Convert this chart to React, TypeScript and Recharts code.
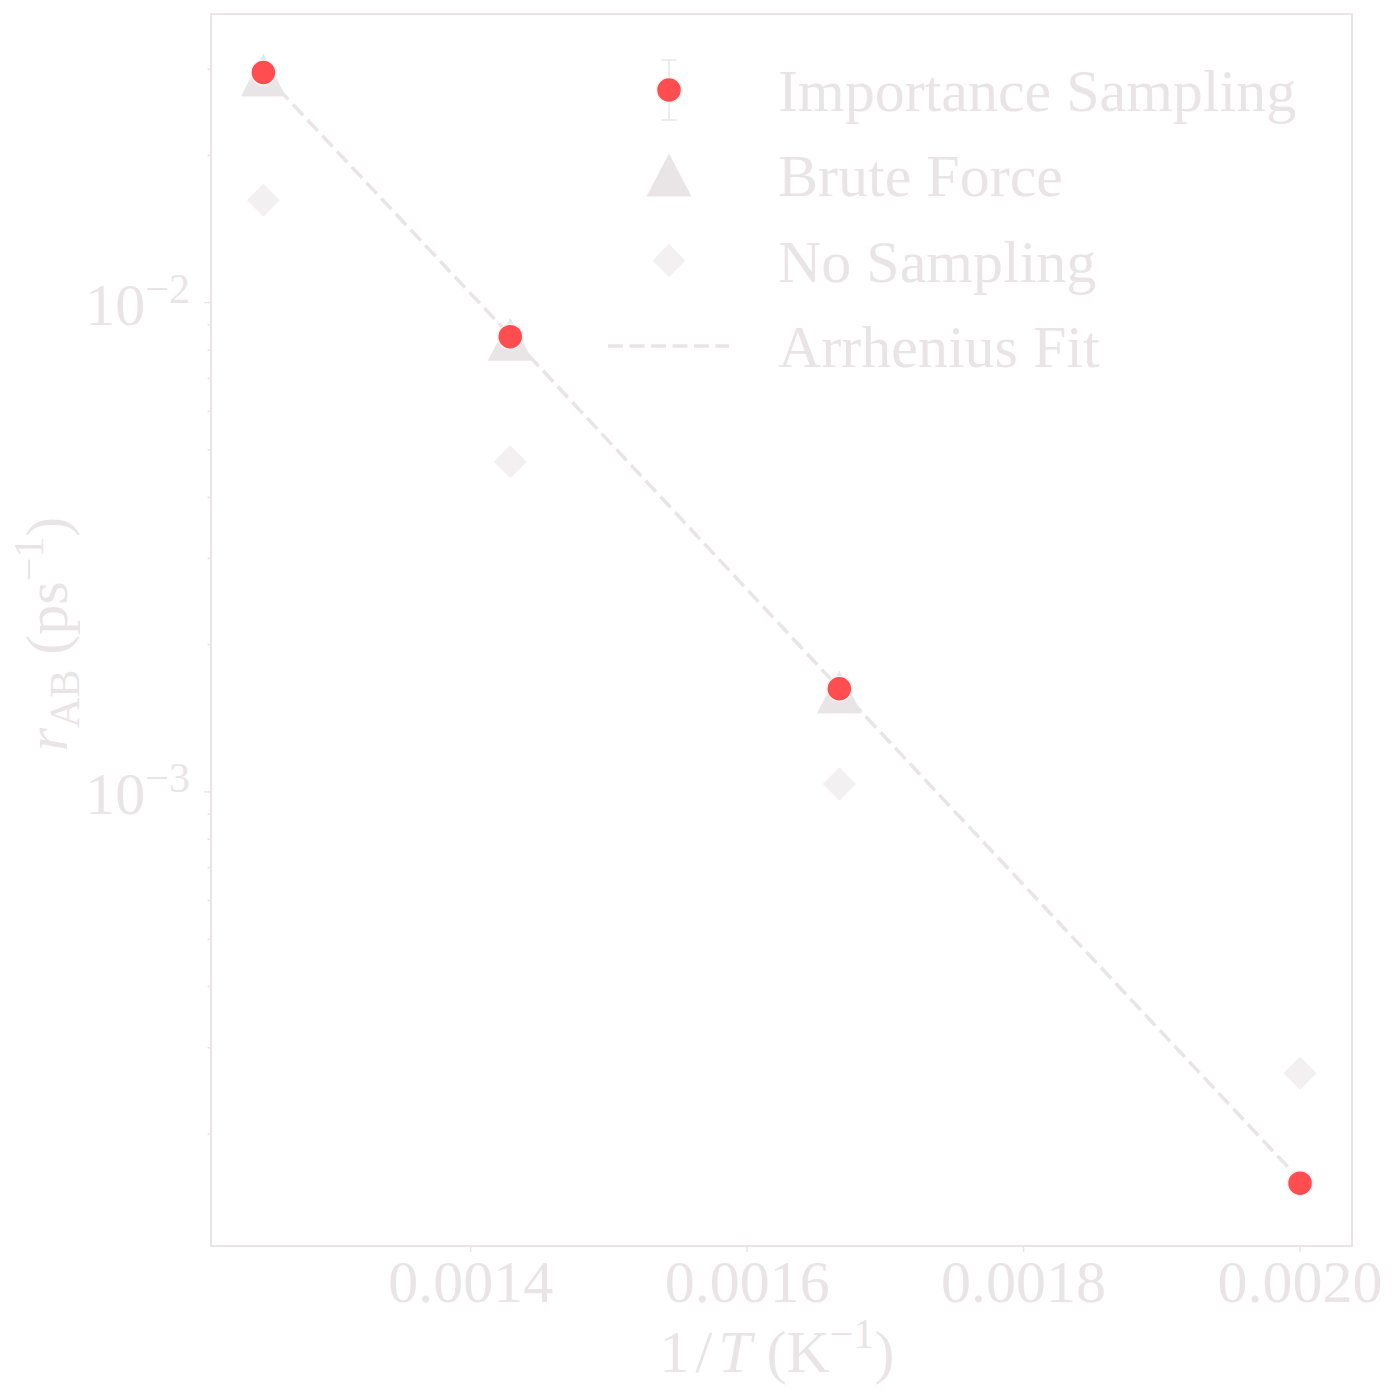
import React from 'react';
import { ScatterChart, Scatter, XAxis, YAxis, ReferenceArea, Legend } from 'recharts';

// 1/T for T = 800, 700, 600, 500 K
const invT = [0.00125, 0.0014286, 0.0016667, 0.002];
const importanceRates = [0.02953, 0.00852, 0.001625, 0.0001586];
const bruteForceRates = [0.0292, 0.00842, 0.0016];
const noSamplingRates = [0.0162, 0.00473, 0.001038, 0.000266];
const arrheniusFit = [0.02947, 0.00856, 0.001628, 0.000161];

const xTicks = [0.0014, 0.0016, 0.0018, 0.002];
const yTicks = [
  0.0002, 0.0003, 0.0004, 0.0005, 0.0006, 0.0007, 0.0008, 0.0009, 0.001,
  0.002, 0.003, 0.004, 0.005, 0.006, 0.007, 0.008, 0.009, 0.01, 0.02, 0.03,
];
const xDomain = [0.0012121, 0.0020376];
const yDomain = [0.000118, 0.0389];

const legendLabels = ['Importance Sampling', 'Brute Force', 'No Sampling', 'Arrhenius Fit'];

const toPoints = (ys: number[]) => ys.map((y, i) => ({ x: invT[i], y }));

const INK = '#E9E5E7';
const PALE = '#F2F0F1';
const RED = '#FF4D50';
const FONT = '"Liberation Serif", "Times New Roman", serif';

const Circle = ({ cx, cy }: any) => (
  <circle cx={cx} cy={cy} r={12.5} fill={RED} stroke="#F4F2F3" strokeWidth={1.5} />
);
const Triangle = ({ cx, cy }: any) => (
  <polygon points={`${cx},${cy - 21.5} ${cx - 22.5},${cy + 21.5} ${cx + 22.5},${cy + 21.5}`} fill={INK} />
);
const Diamond = ({ cx, cy }: any) => (
  <polygon points={`${cx},${cy - 16.5} ${cx + 16.5},${cy} ${cx},${cy + 16.5} ${cx - 16.5},${cy}`} fill={PALE} />
);
const Nothing = () => <g />;

const YTick = ({ x, y, payload }: any) => {
  const axisX = x + 7;
  const v = payload.value;
  const lg = Math.log10(v);
  const major = Math.abs(lg - Math.round(lg)) < 1e-6;
  return (
    <g>
      <line x1={axisX - (major ? 7 : 3.5)} x2={axisX} y1={y} y2={y} stroke={INK} strokeWidth={1.5} />
      {major && (
        <text x={axisX - 21} y={y + 22} textAnchor="end" fontSize={60} fill={INK} fontFamily={FONT}>
          10
          <tspan dy={-22} fontSize={42}>{'\u2212' + Math.abs(Math.round(lg))}</tspan>
        </text>
      )}
    </g>
  );
};

const XTick = ({ x, y, payload }: any) => {
  const axisY = y - 6;
  return (
    <g>
      <line x1={x} x2={x} y1={axisY} y2={axisY + 6} stroke={INK} strokeWidth={1.5} />
      <text x={x} y={axisY + 56} textAnchor="middle" fontSize={60} fill={INK} fontFamily={FONT}>
        {payload.value.toFixed(4)}
      </text>
    </g>
  );
};

const LegendBox = () => {
  const rows = [50, 135, 220.5, 306];
  const cx = 69;
  return (
    <svg width={780} height={360} style={{ display: 'block' }}>
      {/* error-bar circle */}
      <line x1={cx} x2={cx} y1={rows[0] - 30} y2={rows[0] + 30} stroke={INK} strokeWidth={1.5} />
      <line x1={cx - 7.5} x2={cx + 7.5} y1={rows[0] - 30} y2={rows[0] - 30} stroke={INK} strokeWidth={1.5} />
      <line x1={cx - 7.5} x2={cx + 7.5} y1={rows[0] + 30} y2={rows[0] + 30} stroke={INK} strokeWidth={1.5} />
      <Circle cx={cx} cy={rows[0]} />
      <Triangle cx={cx} cy={rows[1]} />
      <Diamond cx={cx} cy={rows[2]} />
      <line x1={8} x2={129} y1={rows[3]} y2={rows[3]} stroke={INK} strokeWidth={3.5} strokeDasharray="15 6.5" />
      {legendLabels.map((label, i) => (
        <text key={label} x={178} y={rows[i] + 21} fontSize={60} fill={INK} fontFamily={FONT}>
          {label}
        </text>
      ))}
    </svg>
  );
};

export default function App() {
  return (
    <div style={{ position: 'absolute', left: 0, top: 0, width: 1399, height: 1400, background: '#fff' }}>
      <ScatterChart width={1399} height={1400} margin={{ top: 14, right: 47, bottom: 0, left: 0 }}>
        <XAxis
          type="number"
          dataKey="x"
          domain={xDomain}
          ticks={xTicks}
          allowDataOverflow
          height={154}
          axisLine={false}
          tickLine={false}
          tickSize={6}
          tickMargin={0}
          tick={<XTick />}
          interval={0}
        />
        <YAxis
          type="number"
          dataKey="y"
          scale="log"
          domain={yDomain}
          ticks={yTicks}
          allowDataOverflow
          width={211}
          axisLine={false}
          tickLine={false}
          tickSize={7}
          tickMargin={0}
          tick={<YTick />}
          interval={0}
        />
        <ReferenceArea
          x1={xDomain[0]}
          x2={xDomain[1]}
          y1={yDomain[0]}
          y2={yDomain[1]}
          fill="none"
          fillOpacity={0}
          stroke={INK}
          strokeWidth={2}
        />
        <Scatter
          name="Arrhenius Fit"
          data={toPoints(arrheniusFit)}
          line={{ stroke: INK, strokeWidth: 3.5, strokeDasharray: '15 6.5' }}
          lineType="joint"
          shape={<Nothing />}
          isAnimationActive={false}
        />
        <Scatter name="Brute Force" data={toPoints(bruteForceRates)} shape={<Triangle />} isAnimationActive={false} />
        <Scatter name="No Sampling" data={toPoints(noSamplingRates)} shape={<Diamond />} isAnimationActive={false} />
        <Scatter name="Importance Sampling" data={toPoints(importanceRates)} shape={<Circle />} isAnimationActive={false} />
        <Legend
          layout="vertical"
          align="center"
          verticalAlign="middle"
          content={<LegendBox />}
          wrapperStyle={{ left: 600, top: 40, width: 780, height: 360 }}
        />
        <text x={777} y={1372} textAnchor="middle" fontSize={60} fill={INK} fontFamily={FONT}>
          1<tspan dx={6}>/</tspan><tspan dx={6} fontStyle="italic">T</tspan> (K
          <tspan dy={-24} fontSize={42}>{'\u22121'}</tspan>
          <tspan dy={24}>)</tspan>
        </text>
        <text
          transform="translate(67, 634) rotate(-90)"
          textAnchor="middle"
          fontSize={60}
          fill={INK}
          fontFamily={FONT}
        >
          <tspan fontStyle="italic">r</tspan>
          <tspan dy={12} fontSize={42}>AB</tspan>
          <tspan dy={-12}> (ps</tspan>
          <tspan dy={-24} fontSize={42}>{'\u22121'}</tspan>
          <tspan dy={24}>)</tspan>
        </text>
      </ScatterChart>
    </div>
  );
}
